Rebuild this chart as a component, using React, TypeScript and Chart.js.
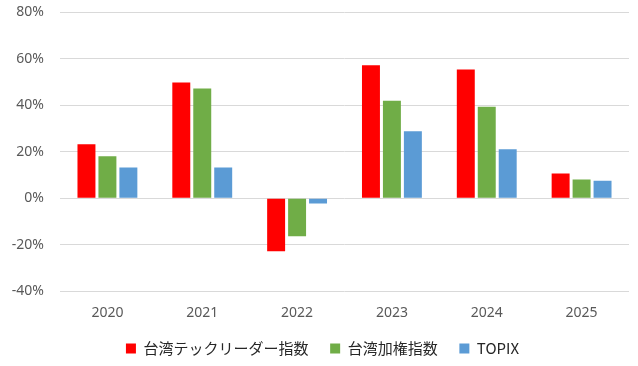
import React, { useEffect, useRef } from "react";
import { Chart, registerables } from "chart.js";

Chart.register(...registerables);

const categories = ["2020", "2021", "2022", "2023", "2024", "2025"];
const techLeaders = [23.2, 49.7, -22.8, 57.1, 55.3, 10.6];
const taiex = [18.0, 47.1, -16.4, 41.9, 39.3, 8.0];
const topix = [13.2, 13.2, -2.3, 28.8, 21.0, 7.5];
const seriesNames = ["台湾テックリーダー指数", "台湾加権指数", "TOPIX"];

const shiftLegend = {
  id: "shiftLegend",
  afterLayout(chart: any) {
    if (chart.legend) {
      chart.legend.left += 8;
      chart.legend.right += 8;
    }
  },
};

export default function App() {
  const ref = useRef<HTMLCanvasElement | null>(null);
  useEffect(() => {
    document.body.style.margin = "0";
    const ctx = ref.current!;
    const chart = new Chart(ctx, {
      type: "bar",
      data: {
        labels: categories,
        datasets: [
          { label: seriesNames[0], data: techLeaders, backgroundColor: "#FF0000" },
          { label: seriesNames[1], data: taiex, backgroundColor: "#70AD47" },
          { label: seriesNames[2], data: topix, backgroundColor: "#5B9BD5" },
        ],
      },
      plugins: [shiftLegend],
      options: {
        responsive: false,
        animation: false,
        devicePixelRatio: 1,
        layout: { padding: { top: 12, right: 9, left: 0, bottom: 0 } },
        datasets: {
          bar: { categoryPercentage: 0.663, barPercentage: 0.857 },
        },
        plugins: {
          tooltip: { enabled: false },
          legend: {
            position: "bottom",
            labels: {
              boxWidth: 10,
              boxHeight: 10,
              padding: 15,
              color: "#262626",
              font: { family: "'Noto Sans CJK JP', 'Noto Sans'", size: 15 },
              generateLabels: (c: any) =>
                Chart.defaults.plugins.legend.labels
                  .generateLabels(c)
                  .map((l: any, i: number, arr: any[]) => ({
                    ...l,
                    text: i < arr.length - 1 ? l.text + "  " : l.text,
                  })),
            },
          },
        },
        scales: {
          x: {
            grid: { display: false },
            border: { display: false },
            ticks: {
              color: "#595959",
              font: { family: "'Noto Sans'", size: 14 },
              padding: 5,
            },
          },
          y: {
            min: -40,
            max: 80,
            afterFit: (s: any) => {
              s.width = 60;
              s.paddingTop = 0;
              s.paddingBottom = 0;
            },
            grid: { color: "#D9D9D9", lineWidth: 1, drawTicks: false },
            border: { display: false },
            ticks: {
              stepSize: 20,
              color: "#595959",
              padding: 16,
              font: { family: "'Noto Sans'", size: 14 },
              callback: (v: any) => v + "%",
            },
          },
        },
      },
    });
    return () => chart.destroy();
  }, []);
  return (
    <div style={{ width: 638, height: 366 }}>
      <canvas ref={ref} width={638} height={366} />
    </div>
  );
}
